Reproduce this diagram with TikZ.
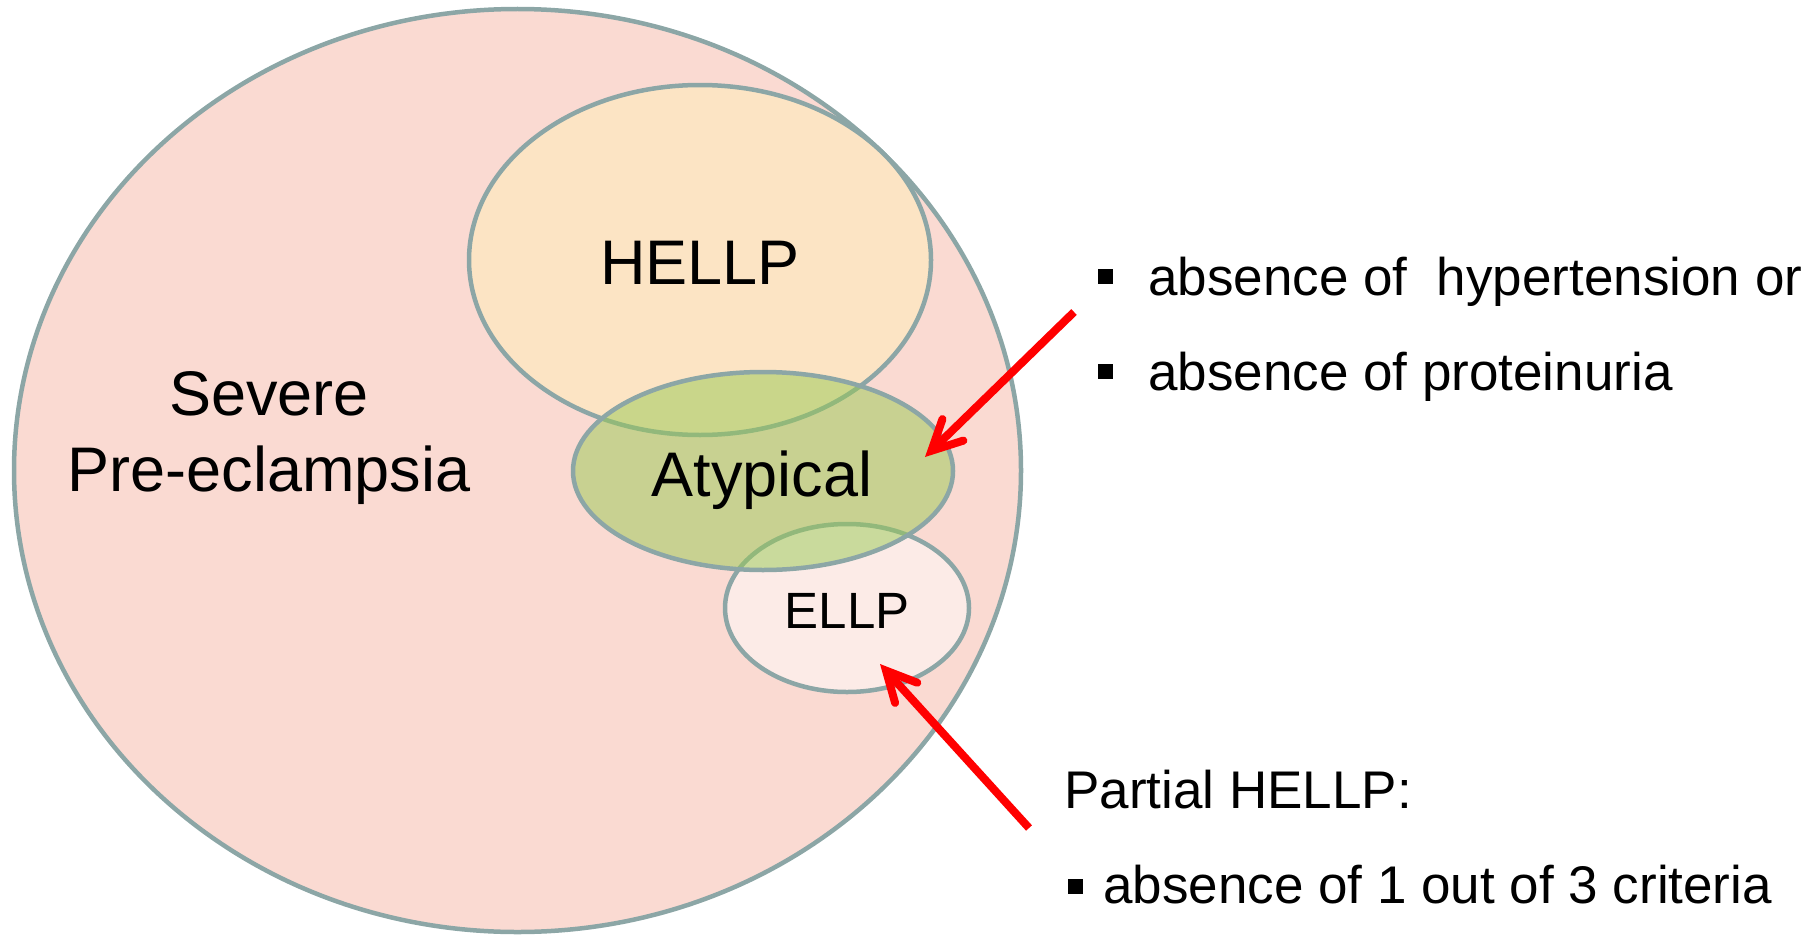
\documentclass[tikz,border=0pt]{standalone}
\usepackage{fontspec}
\setmainfont{Liberation Sans}
\usetikzlibrary{shapes.geometric,arrows.meta}
\definecolor{edgegrey}{RGB}{140,166,166}
\definecolor{pinkbg}{RGB}{250,218,210}
\definecolor{peach}{RGB}{252,228,196}
\definecolor{lightpink}{RGB}{252,235,231}
\definecolor{olive}{RGB}{152,202,82}
\definecolor{arrowred}{RGB}{255,0,0}
\tikzset{
  setbox/.style={ellipse, draw=edgegrey, line width=4.5pt, inner sep=0pt},
  lbl/.style={inner sep=0pt, anchor=base},
  txt/.style={inner sep=0pt, anchor=base west, font=\fontsize{53}{64}\selectfont},
  bul/.style={fill=black, inner sep=0pt, minimum size=15pt},
  redarrow/.style={draw=arrowred, line width=8pt,
    -{Straight Barb[length=30pt,width=30pt,line cap=round,line join=miter]}}
}
\begin{document}
\begin{tikzpicture}[x=1pt,y=-1pt]
\useasboundingbox (0,0) rectangle (1819,934);
% sets
\node[setbox, fill=pinkbg, minimum width=1007pt, minimum height=923pt] (spe) at (517.5,470.5) {};
\node[setbox, fill=peach, minimum width=462pt, minimum height=350pt] (hellp) at (700,260) {};
\node[setbox, fill=lightpink, minimum width=244pt, minimum height=168pt] (ellp) at (847,608) {};
\node[setbox, fill=olive, fill opacity=0.5, minimum width=380pt, minimum height=198pt] (atyp) at (763,471) {};
% labels
\node[lbl, font=\fontsize{63}{76}\selectfont] (tsev) at (269,415) {Severe};
\node[lbl, font=\fontsize{63}{76}\selectfont] (tpre) at (269,491) {Pre-eclampsia};
\node[lbl, font=\fontsize{63}{76}\selectfont] (thellp) at (700,284) {HELLP};
\node[lbl, font=\fontsize{63}{76}\selectfont] (tatyp) at (762,496) {Atypical};
\node[lbl, font=\fontsize{51}{60}\selectfont] (tellp) at (847,628) {ELLP};
% right texts
\node[bul] (b1) at (1105,276) {};
\node[txt] (t1) at (1148,295) {absence of\ \ hypertension or};
\node[bul] (b2) at (1105,371) {};
\node[txt] (t2) at (1148,390) {absence of proteinuria};
\node[txt, font=\fontsize{53}{62}\selectfont] (t3) at (1064,808) {Partial HELLP:};
\node[bul] (b3) at (1075,886) {};
\node[txt, font=\fontsize{53}{62}\selectfont] (t4) at (1103,903) {absence of 1 out of 3 criteria};
% arrows
\coordinate (a1s) at (1074,312);
\coordinate (a1e) at (925,457);
\coordinate (a2s) at (1029,828);
\coordinate (a2e) at (880,664);
\draw[redarrow] (a1s) -- (a1e);
\draw[redarrow] (a2s) -- (a2e);
\end{tikzpicture}
\end{document}
